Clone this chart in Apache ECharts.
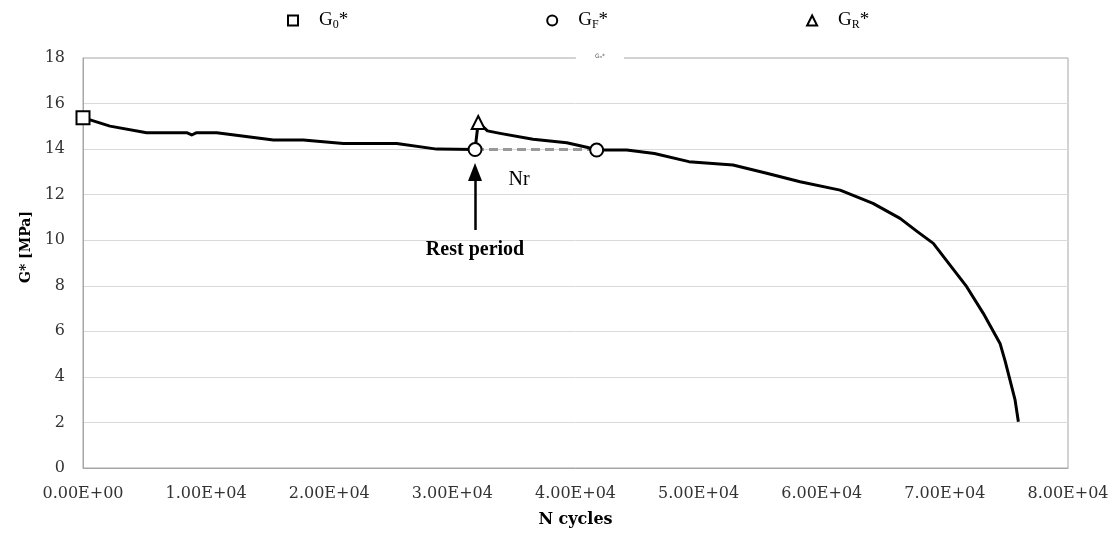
<!DOCTYPE html>
<html>
<head>
<meta charset="utf-8">
<script src="https://cdn.jsdelivr.net/npm/echarts@6/dist/echarts.min.js"></script>
<style>
  html, body { margin: 0; padding: 0; background: #fff; }
  #chart { width: 1113px; height: 545px; }
</style>
</head>
<body>
<div id="chart"></div>
<script>
// G* curve before the rest period (N cycles, MPa)
const cyclesBefore = [0, 2190, 5170, 8420, 8830, 9230, 10860, 15460, 17890, 21140, 25480, 28730, 31840];
const modulusBefore = [15.38, 15.01, 14.72, 14.72, 14.62, 14.72, 14.72, 14.40, 14.40, 14.25, 14.25, 14.0, 13.98];

// G* curve after the rest period
const cyclesAfter = [32100, 32850, 33870, 36550, 39290, 40910, 41720, 44160, 46410, 49210,
  52790, 55530, 58240, 61490, 64160, 66360, 67710, 69060, 70420, 71770, 73120,
  74480, 74890, 75290, 75700, 75970];
const modulusAfter = [15.17, 14.80, 14.69, 14.43, 14.28, 14.08, 13.96, 13.96, 13.81, 13.45,
  13.30, 12.94, 12.57, 12.20, 11.62, 10.96, 10.40, 9.86, 8.91, 7.96, 6.79,
  5.47, 4.70, 3.86, 2.99, 2.03];

// marked points
const pointG0 = [0, 15.38];
const pointsGF = [[31840, 13.98], [41720, 13.96]];
const pointGR = [32100, 15.17];

// rest period annotations
const restCycles = 31840;
const arrowFrom = 10.45;
const arrowTo = 13.0;
const nrLabelAt = [35410, 12.64];

const legendNames = ['G0*', 'GF*', 'GR*'];
const legendRich = { 'G0*': '{a|G}{s|0}{a|*}', 'GF*': '{a|G}{s|F}{a|*}', 'GR*': '{a|G}{s|R}{a|*}' };

const serif = 'Liberation Serif';
const tickFont = 'DejaVu Serif';

function expLabel(v) {
    const parts = Number(v).toExponential(2).split('e');
    const sign = parts[1][0];
    let exp = parts[1].slice(1);
    if (exp.length < 2) exp = '0' + exp;
    return parts[0] + 'E' + sign + exp;
}

const curveBefore = cyclesBefore.map((n, i) => [n, modulusBefore[i]]);
const curveAfter = cyclesAfter.map((n, i) => [n, modulusAfter[i]]);

const markerStyle = { color: '#fff', borderColor: '#000', borderWidth: 2, opacity: 1 };

const chart = echarts.init(document.getElementById('chart'));
chart.setOption({
    animation: false,
    backgroundColor: '#fff',
    title: {
        text: 'Gₙ*',
        left: 576,
        top: 50,
        padding: [3, 19],
        backgroundColor: '#fff',
        textStyle: { fontFamily: 'DejaVu Sans', fontSize: 6, fontWeight: 'normal', color: '#555' }
    },
    legend: {
        data: legendNames,
        left: 282,
        top: 6,
        itemWidth: 10,
        itemHeight: 10,
        itemGap: 198,
        formatter: name => legendRich[name],
        textStyle: {
            padding: [0, 0, 0, 16],
            rich: {
                a: { fontFamily: serif, fontSize: 19, color: '#000' },
                s: { fontFamily: serif, fontSize: 12, color: '#000', padding: [8, 0, 0, 0] }
            }
        }
    },
    grid: { left: 83, right: 45, top: 58, bottom: 77, show: true, borderColor: '#a6a6a6', borderWidth: 1 },
    xAxis: {
        type: 'value',
        min: 0,
        max: 80000,
        interval: 10000,
        name: 'N cycles',
        nameLocation: 'middle',
        nameGap: 44,
        nameTextStyle: { fontFamily: tickFont, fontWeight: 'bold', fontSize: 16, color: '#000' },
        axisLine: { show: true, lineStyle: { color: '#a6a6a6' } },
        axisTick: { show: false },
        splitLine: { show: false },
        axisLabel: { formatter: expLabel, margin: 18, fontFamily: tickFont, fontSize: 16, color: '#333' }
    },
    yAxis: {
        type: 'value',
        min: 0,
        max: 18,
        interval: 2,
        name: 'G* [MPa]',
        nameLocation: 'middle',
        nameGap: 50,
        nameTextStyle: { fontFamily: tickFont, fontWeight: 'bold', fontSize: 14, color: '#000', padding: [0, 0, 0, 32] },
        axisLine: { show: true, lineStyle: { color: '#a6a6a6' } },
        axisTick: { show: false },
        splitLine: { show: true, showMaxLine: false, lineStyle: { color: '#d9d9d9' } },
        axisLabel: { margin: 18, fontFamily: tickFont, fontSize: 16, color: '#333' }
    },
    series: [
        {
            name: 'Nr',
            type: 'line',
            data: pointsGF.map(p => [p[0], pointsGF[0][1]]),
            symbol: 'none',
            lineStyle: { color: '#999', width: 3, type: [9, 5] },
            z: 2,
            markLine: {
                silent: true,
                symbol: ['none', 'triangle'],
                symbolSize: [14, 18],
                lineStyle: { color: '#000', width: 2.5, type: 'solid' },
                label: {
                    show: true,
                    position: 'start',
                    distance: 10,
                    formatter: 'Rest period',
                    fontFamily: serif,
                    fontWeight: 'bold',
                    fontSize: 20,
                    color: '#000'
                },
                data: [[{ coord: [restCycles, arrowFrom] }, { coord: [restCycles, arrowTo] }]]
            },
            markPoint: {
                silent: true,
                symbol: 'circle',
                symbolSize: 1,
                itemStyle: { color: 'transparent' },
                label: { show: true, position: 'inside', formatter: 'Nr', fontFamily: serif, fontSize: 20, color: '#000' },
                data: [{ coord: nrLabelAt }]
            }
        },
        {
            name: 'curve',
            type: 'line',
            data: curveBefore.concat(curveAfter),
            symbol: 'none',
            lineStyle: { color: '#000', width: 3, join: 'round' },
            z: 3
        },
        {
            name: 'G0*',
            type: 'scatter',
            data: [pointG0],
            symbol: 'rect',
            symbolSize: 13,
            itemStyle: markerStyle,
            z: 5
        },
        {
            name: 'GF*',
            type: 'scatter',
            data: pointsGF,
            symbol: 'circle',
            symbolSize: 13,
            itemStyle: markerStyle,
            z: 5
        },
        {
            name: 'GR*',
            type: 'scatter',
            data: [pointGR],
            symbol: 'triangle',
            symbolSize: 13,
            itemStyle: markerStyle,
            z: 5
        }
    ]
});
</script>
</body>
</html>
